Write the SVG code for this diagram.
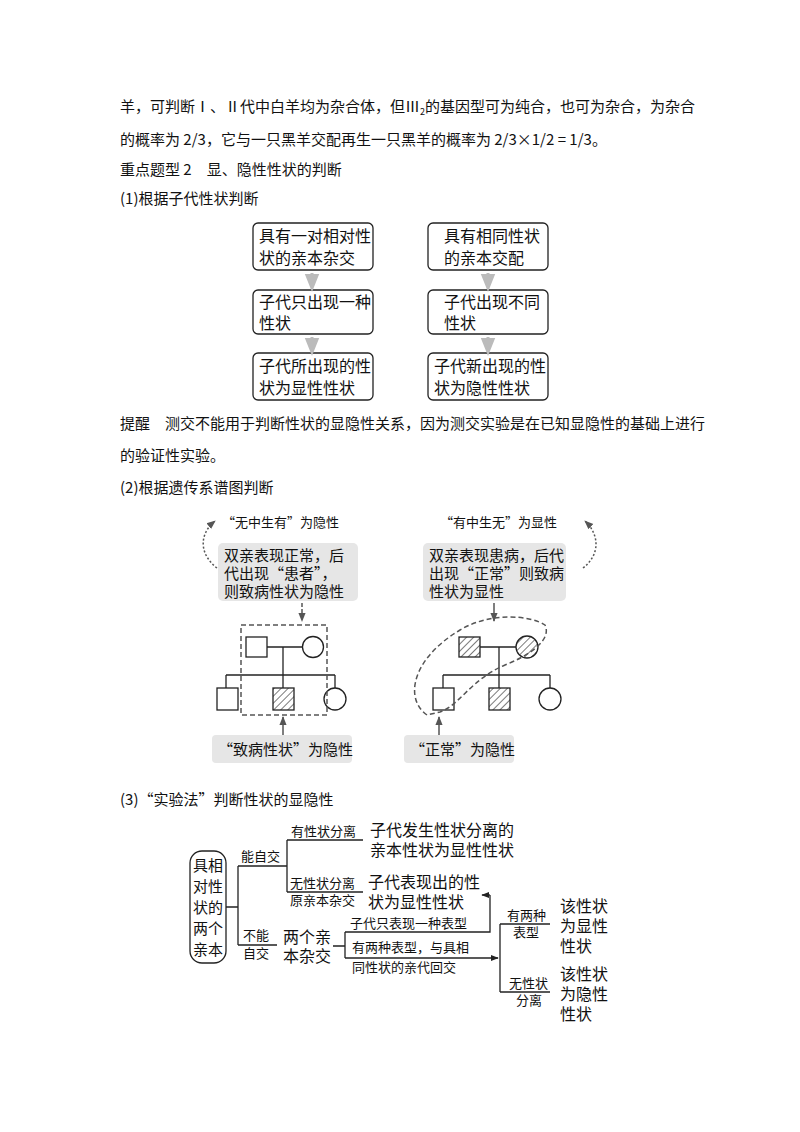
<svg xmlns="http://www.w3.org/2000/svg" width="800" height="1132" viewBox="0 0 800 1132">
<defs>
<style>
text{font-family:"Noto Sans CJK SC","Liberation Serif",serif;fill:#111}
.t{font-size:15px}
.b{font-size:16px}
.s{font-size:13px}
.box{fill:#fff;stroke:#222;stroke-width:1.3}
.ln{fill:none;stroke:#222;stroke-width:1.3}
.gb{fill:#e6e6e6}
</style>
<pattern id="h" width="5" height="5" patternUnits="userSpaceOnUse" patternTransform="rotate(45)"><rect width="5" height="5" fill="#fff"/><line x1="0" y1="0" x2="0" y2="5" stroke="#222" stroke-width="1.2"/></pattern>
<marker id="ga" viewBox="0 0 10 10" refX="5" refY="5" markerWidth="6" markerHeight="6" orient="auto"><path d="M0,1 L10,5 L0,9 Z" fill="#bbb"/></marker>
<marker id="da" viewBox="0 0 10 10" refX="9" refY="5" markerWidth="6" markerHeight="6" orient="auto"><path d="M0,1 L10,5 L0,9 Z" fill="#555"/></marker>
<marker id="ka" viewBox="0 0 10 10" refX="9" refY="5" markerWidth="6" markerHeight="6" orient="auto"><path d="M0,1 L10,5 L0,9 Z" fill="#222"/></marker>
</defs>
<rect width="800" height="1132" fill="#fff"/>
<text class="t" x="120" y="112">羊，可判断Ⅰ、Ⅱ代中白羊均为杂合体，但Ⅲ<tspan font-size="9" dy="3">2</tspan><tspan dy="-3">的基因型可为纯合，也可为杂合，为杂合</tspan></text>
<text class="t" x="120" y="145">的概率为 2/3，它与一只黑羊交配再生一只黑羊的概率为 2/3×1/2 = 1/3。</text>
<text class="t" x="120" y="175">重点题型 2　显、隐性性状的判断</text>
<text class="t" x="120" y="204">(1)根据子代性状判断</text>
<g id="l1"><rect class="box" x="253" y="223" width="120" height="47" rx="5"/><text class="b" x="259" y="242">具有一对相对性</text><text class="b" x="259" y="264">状的亲本杂交</text></g>
<g id="l2"><rect class="box" x="253" y="290" width="120" height="44" rx="5"/><text class="b" x="259" y="308">子代只出现一种</text><text class="b" x="259" y="329">性状</text></g>
<g id="l3"><rect class="box" x="253" y="353" width="120" height="47" rx="5"/><text class="b" x="259" y="372">子代所出现的性</text><text class="b" x="259" y="394">状为显性性状</text></g>
<g id="r1"><rect class="box" x="428" y="223" width="120" height="47" rx="5"/><text class="b" x="444" y="242">具有相同性状</text><text class="b" x="444" y="264">的亲本交配</text></g>
<g id="r2"><rect class="box" x="428" y="290" width="120" height="44" rx="5"/><text class="b" x="444" y="308">子代出现不同</text><text class="b" x="444" y="329">性状</text></g>
<g id="r3"><rect class="box" x="428" y="353" width="120" height="47" rx="5"/><text class="b" x="434" y="372">子代新出现的性</text><text class="b" x="434" y="394">状为隐性性状</text></g>
<g id="conn1" stroke="#bbb" stroke-width="3">
<line x1="312" y1="273" x2="312" y2="283" marker-end="url(#ga)"/><line x1="312" y1="337" x2="312" y2="347" marker-end="url(#ga)"/>
<line x1="488" y1="273" x2="488" y2="283" marker-end="url(#ga)"/><line x1="488" y1="337" x2="488" y2="347" marker-end="url(#ga)"/>
</g>
<text class="t" x="120" y="429">提醒　测交不能用于判断性状的显隐性关系，因为测交实验是在已知显隐性的基础上进行</text>
<text class="t" x="120" y="461">的验证性实验。</text>
<text class="t" x="120" y="493">(2)根据遗传系谱图判断</text>
<text class="s" x="222" y="527">“无中生有”为隐性</text>
<text class="s" x="440" y="527">“有中生无”为显性</text>
<g id="gl"><rect class="gb" x="218" y="543" width="140" height="58" rx="5"/><text class="t" x="224" y="561">双亲表现正常，后</text><text class="t" x="224" y="579">代出现“患者”，</text><text class="t" x="224" y="597">则致病性状为隐性</text></g>
<g id="gr"><rect class="gb" x="423" y="543" width="143" height="58" rx="5"/><text class="t" x="429" y="561">双亲表现患病，后代</text><text class="t" x="429" y="579">出现“正常”则致病</text><text class="t" x="429" y="597">性状为显性</text></g>
<g id="bl"><rect class="gb" x="212" y="735" width="140" height="28" rx="4"/><text class="t" x="218" y="755">“致病性状”为隐性</text></g>
<g id="br"><rect class="gb" x="404" y="735" width="110" height="28" rx="4"/><text class="t" x="410" y="755">“正常”为隐性</text></g>
<g id="pedL" class="ln">
<rect x="246" y="637" width="21" height="20" class="box"/><circle cx="313" cy="647" r="10.5" class="box"/>
<line x1="267" y1="647" x2="303" y2="647"/><line x1="283" y1="647" x2="283" y2="688"/>
<line x1="226" y1="675" x2="335" y2="675"/><line x1="226" y1="675" x2="226" y2="688"/><line x1="335" y1="675" x2="335" y2="688"/>
<rect x="217" y="688" width="21" height="22" class="box"/><rect x="273" y="688" width="21" height="22" fill="url(#h)" stroke="#222" stroke-width="1.3"/><circle cx="335" cy="699" r="11" class="box"/>
</g>
<g id="pedR" class="ln">
<rect x="459" y="637" width="21" height="20" fill="url(#h)" stroke="#222" stroke-width="1.3"/><circle cx="527" cy="647" r="11" fill="url(#h)" stroke="#222" stroke-width="1.3"/>
<line x1="480" y1="647" x2="516" y2="647"/><line x1="499" y1="647" x2="499" y2="688"/>
<line x1="443" y1="675" x2="550" y2="675"/><line x1="443" y1="675" x2="443" y2="688"/><line x1="550" y1="675" x2="550" y2="688"/>
<rect x="433" y="688" width="21" height="22" class="box"/><rect x="489" y="688" width="21" height="22" fill="url(#h)" stroke="#222" stroke-width="1.3"/><circle cx="550" cy="699" r="11" class="box"/>
</g>
<g id="conn2" fill="none" stroke="#555" stroke-width="1.5">
<rect x="241" y="625" width="86" height="90" stroke-dasharray="5,3"/>
<path d="M427,715 C405,700 410,660 460,630 C490,612 530,615 545,625 C552,640 530,655 505,665 C470,680 460,705 440,712 Z" stroke-dasharray="5,3"/>
<line x1="302" y1="603" x2="302" y2="621" stroke-dasharray="4,2" marker-end="url(#da)"/>
<line x1="494" y1="603" x2="494" y2="621" marker-end="url(#da)"/>
<line x1="283" y1="735" x2="283" y2="717" marker-end="url(#da)"/>
<line x1="439" y1="735" x2="439" y2="717" marker-end="url(#da)"/>
<path d="M217,568 C200,555 198,535 215,521" stroke-dasharray="2,2" marker-end="url(#da)"/>
<path d="M583,568 C600,555 600,535 585,521" stroke-dasharray="2,2" marker-end="url(#da)"/>
</g>
<text class="t" x="120" y="805">(3)“实验法”判断性状的显隐性</text>
<g id="root"><rect class="box" x="190" y="851" width="36" height="112" rx="12"/><text class="t" x="193" y="871">具相</text><text class="t" x="193" y="892">对性</text><text class="t" x="193" y="913">状的</text><text class="t" x="193" y="934">两个</text><text class="t" x="193" y="955">亲本</text></g>
<g id="conn3" class="ln">
<path d="M226,907 H238 M238,866 V945 M238,866 H287 M287,840 V892 M287,840 H363 M287,892 H363 M238,945 H277 M333,946 H345 M345,932 V958"/>
<path d="M345,932 H490 V895"/>
<line x1="490" y1="895" x2="482" y2="895" marker-end="url(#ka)"/>
<path d="M345,958 H498" marker-end="url(#ka)"/>
<path d="M500,924 V992 M500,924 H550 M500,992 H550"/>
</g>
<g id="labels3">
<text class="s" x="241" y="861">能自交</text>
<text class="s" x="291" y="836">有性状分离</text>
<text class="b" x="370" y="836">子代发生性状分离的</text><text class="b" x="370" y="856">亲本性状为显性性状</text>
<text class="s" x="290" y="888">无性状分离</text><text class="s" x="290" y="905">原亲本杂交</text>
<text class="b" x="368" y="888">子代表现出的性</text><text class="b" x="368" y="908">状为显性性状</text>
<text class="s" x="243" y="940">不能</text><text class="s" x="243" y="958">自交</text>
<text class="b" x="283" y="943">两个亲</text><text class="b" x="283" y="962">本杂交</text>
<text class="s" x="350" y="928">子代只表现一种表型</text>
<text class="s" x="352" y="952">有两种表型，与具相</text><text class="s" x="352" y="972">同性状的亲代回交</text>
<text class="s" x="507" y="920">有两种</text><text class="s" x="513" y="937">表型</text>
<text class="s" x="509" y="988">无性状</text><text class="s" x="516" y="1005">分离</text>
<text class="b" x="560" y="912">该性状</text><text class="b" x="560" y="932">为显性</text><text class="b" x="560" y="952">性状</text>
<text class="b" x="560" y="980">该性状</text><text class="b" x="560" y="1000">为隐性</text><text class="b" x="560" y="1020">性状</text>
</g>
</svg>
